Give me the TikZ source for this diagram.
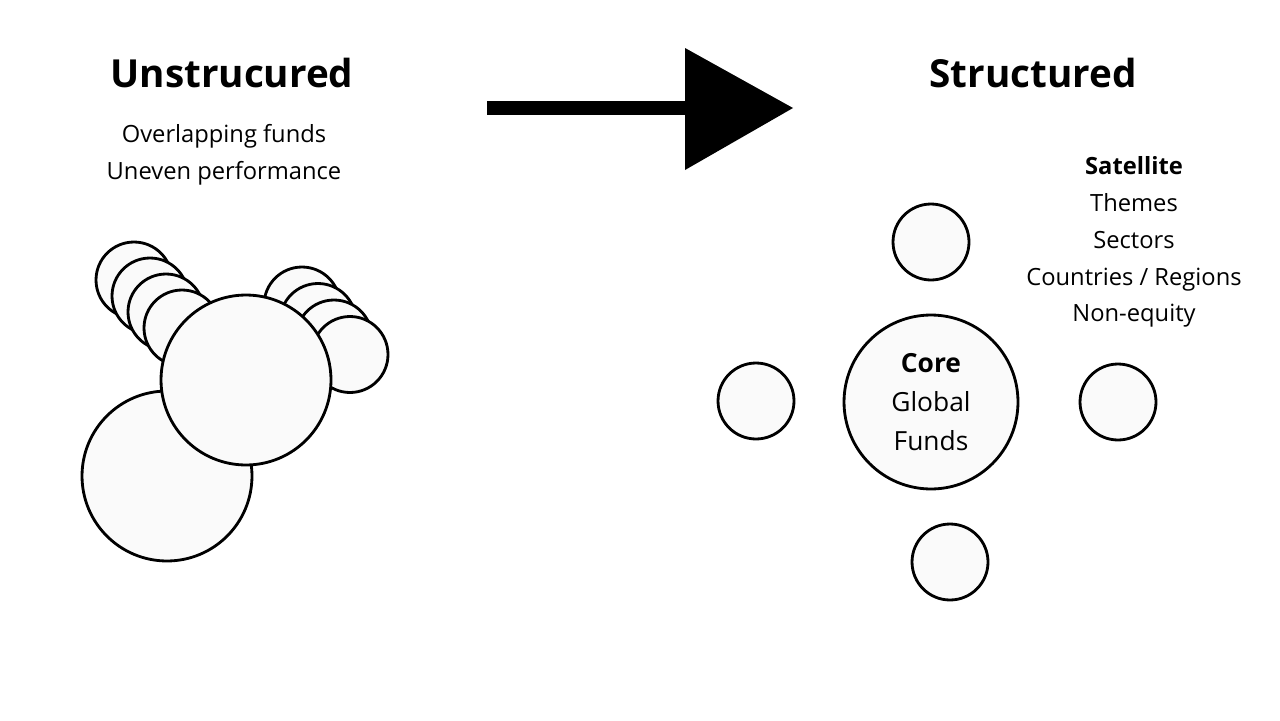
\documentclass[tikz,border=0pt]{standalone}
\usepackage{fontspec}
\setmainfont{Open Sans}
\begin{document}
\begin{tikzpicture}
        [x=0.02cm, y=-0.02cm,
        fund/.style={circle, draw, line width=1.6pt, fill=black!2},
        small/.style={fund, minimum size=1.52cm, inner sep=0pt},
        big/.style={fund, minimum size=3.4cm, inner sep=0pt},
        core/.style={fund, minimum size=3.48cm, inner sep=0pt, align=center, font=\fontsize{15}{22}\selectfont},
        title/.style={font=\fontsize{22}{26}\selectfont\bfseries},
        body/.style={align=center, font=\fontsize{13.5}{21}\selectfont}]

        \useasboundingbox (0,0) rectangle (1280,720);

        % titles
        \node[title] (unst) at (232,73) {Unstrucured};
        \node[title] (st) at (1033,73) {Structured};
        \node[body] (unsttext) at (224,155) {Overlapping funds\\Uneven performance};
        \node[body] (sat) at (1134,242) {\textbf{Satellite}\\Themes\\Sectors\\Countries / Regions\\Non-equity};

        % arrow
        \coordinate (a0) at (487,108);
        \coordinate (a1) at (690,108);
        \draw[line width=14\pgflinewidth, line width=0.28cm] (a0) -- (a1);
        \fill (685,48) -- (793,108) -- (685,170) -- cycle;

        % unstructured cluster
        \foreach \i in {0,...,3}
            \node[small] (l\i) at (134+16*\i,280+16*\i) {};
        \foreach \i in {0,...,3}
            \node[small] (r\i) at (302+16*\i,305+16.5*\i) {};
        \node[big] (b1) at (167,476) {};
        \node[big] (b0) at (246,380) {};

        % structured
        \node[core] (core) at (931,402) {\textbf{Core}\\Global\\Funds};
        \node[small] (n) at (931,242) {};
        \node[small] (w) at (756,401) {};
        \node[small] (e) at (1118,402) {};
        \node[small] (s) at (950,562) {};

\end{tikzpicture}
\end{document}
